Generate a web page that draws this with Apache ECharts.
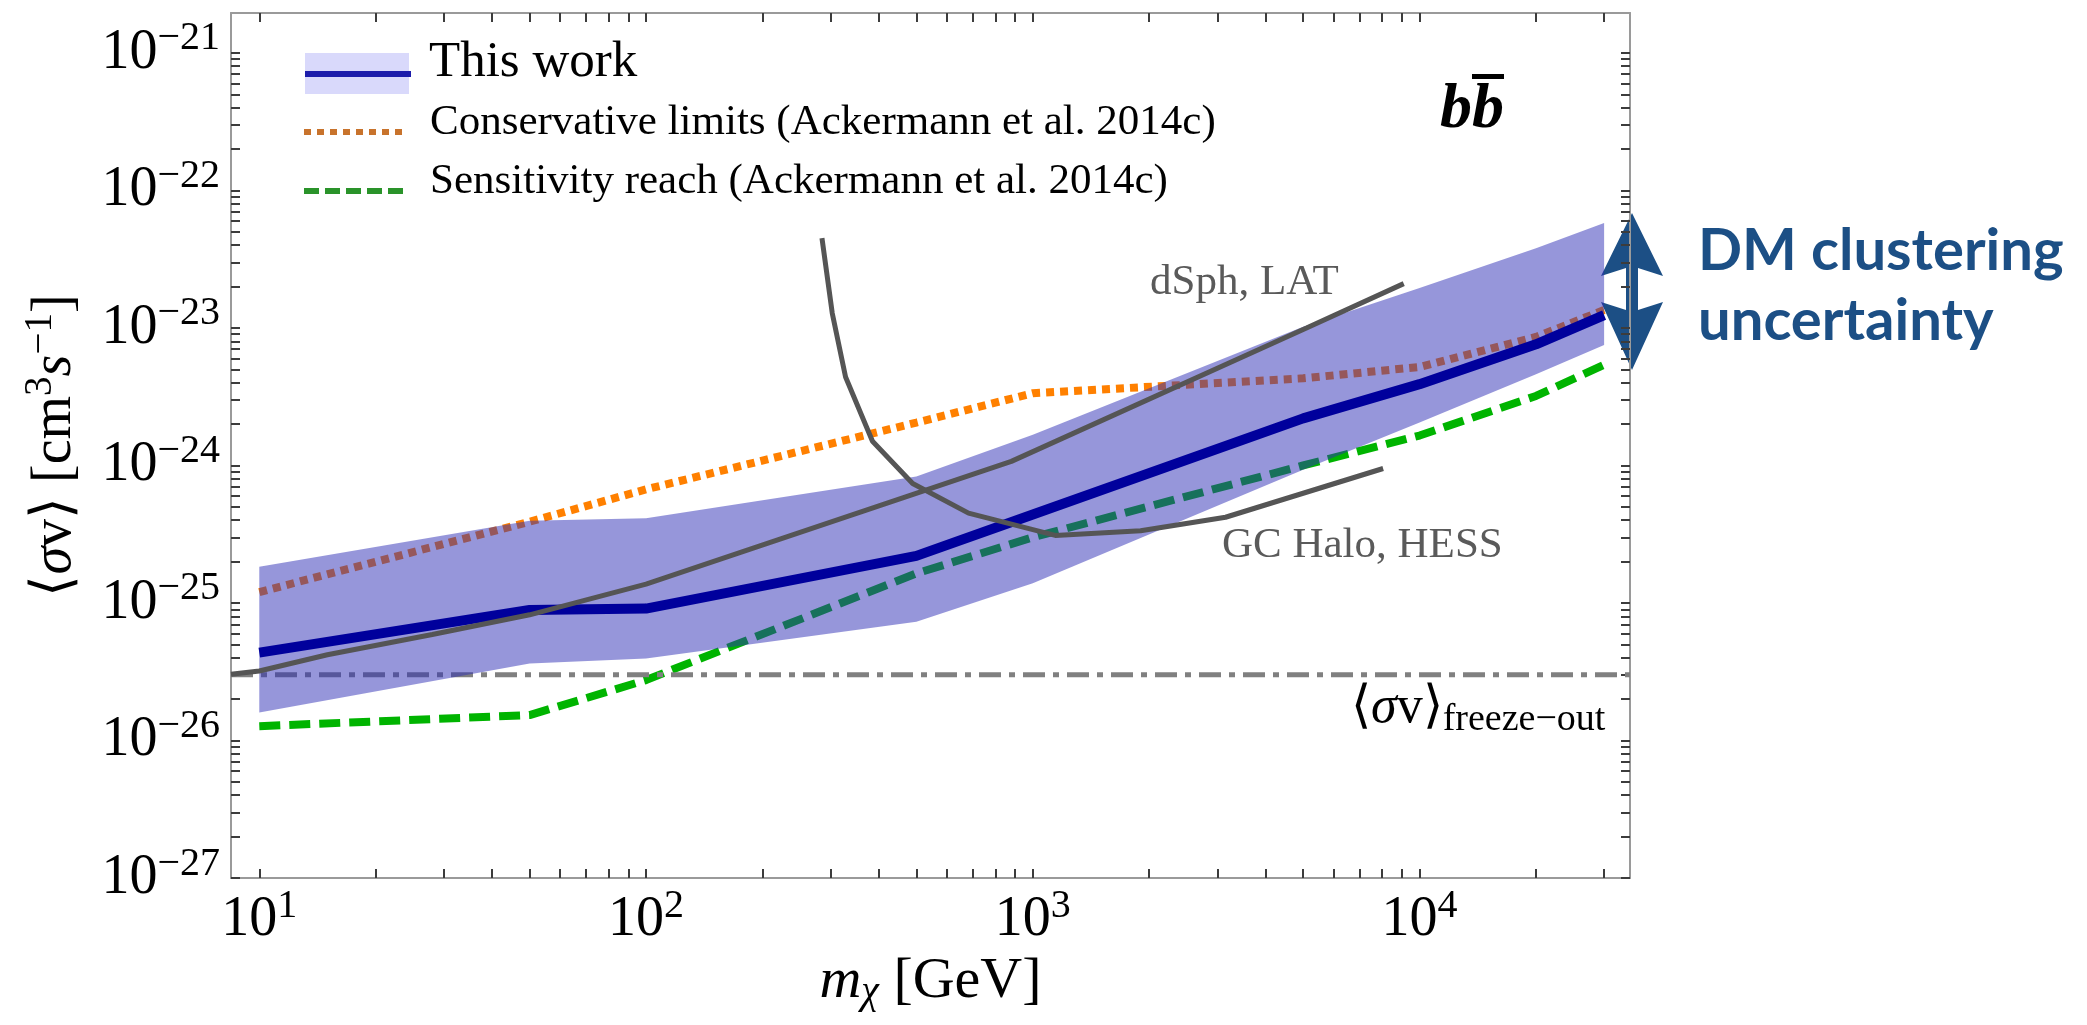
<!DOCTYPE html>
<html>
<head>
<meta charset="utf-8">
<script src="https://cdn.jsdelivr.net/npm/echarts@6/dist/echarts.min.js"></script>
<style>
html, body { margin: 0; padding: 0; background: #ffffff; }
#chart { width: 2087px; height: 1025px; }
</style>
</head>
<body>
<div id="chart"></div>
<script>
// ---------------- data ----------------
const massThisWork   = [10, 50, 100, 500, 1000, 5000, 10000, 20000, 30000];
const sigmaThisWork  = [4.35e-26, 8.9e-26, 9.1e-26, 2.2e-25, 4.4e-25, 2.2e-24, 3.9e-24, 7.6e-24, 1.24e-23];
const bandUpper      = [1.83e-25, 3.96e-25, 4.13e-25, 8.3e-25, 1.67e-24, 1.02e-23, 1.95e-23, 3.8e-23, 5.8e-23];
const bandLower      = [1.6e-26, 3.63e-26, 3.95e-26, 7.3e-26, 1.39e-25, 9.3e-25, 2.05e-24, 4.6e-24, 7.5e-24];

const massConservative  = [10, 50, 100, 500, 1000, 5000, 10000, 20000, 30000];
const sigmaConservative = [1.2e-25, 3.9e-25, 6.7e-25, 2.05e-24, 3.35e-24, 4.3e-24, 5.2e-24, 8.6e-24, 1.35e-23];

const massSensitivity  = [10, 50, 100, 500, 1000, 5000, 10000, 20000, 30000];
const sigmaSensitivity = [1.27e-26, 1.53e-26, 2.75e-26, 1.64e-25, 3.0e-25, 1.0e-24, 1.65e-24, 3.2e-24, 5.4e-24];

const massDSph  = [8.45, 10, 15, 28, 50, 100, 880, 5100, 9100];
const sigmaDSph = [3.03e-26, 3.2e-26, 4.2e-26, 5.9e-26, 8.2e-26, 1.37e-25, 1.07e-24, 1.0e-23, 2.1e-23];

const massGCHalo  = [285, 303, 328, 385, 489, 682, 1143, 1900, 3150, 8050];
const sigmaGCHalo = [4.5e-23, 1.28e-23, 4.4e-24, 1.5e-24, 7.4e-25, 4.5e-25, 3.1e-25, 3.35e-25, 4.2e-25, 9.5e-25];

const freezeOutMass  = [8.45, 35000];
const freezeOutSigma = 3e-26;

// axis ranges and ticks
const X_MIN = 8.45, X_MAX = 35000;
const Y_MIN = 1e-27, Y_MAX = 1.95e-21;
const xMajorTicks = [10, 100, 1000, 10000];
const xMinorTicks = [20, 30, 40, 50, 60, 70, 80, 90,
                     200, 300, 400, 500, 600, 700, 800, 900,
                     2000, 3000, 4000, 5000, 6000, 7000, 8000, 9000,
                     20000, 30000];
const yMajorExponents = [-27, -26, -25, -24, -23, -22, -21];
const yMinorMultipliers = [2, 3, 4, 5, 6, 7, 8, 9];

// ---------------- helpers ----------------
const lg = Math.log10;
const SERIF = '"Liberation Serif", "Times New Roman", serif';
const FRAME = '#9a9a9a';
const TICK = '#3c3c3c';

const yMinorTicks = [];
yMajorExponents.forEach(function (e) {
  yMinorMultipliers.forEach(function (k) {
    const v = e + lg(k);
    if (v < lg(Y_MAX)) yMinorTicks.push(v);
  });
});
const yTicksAll = yMajorExponents.concat(yMinorTicks);
const xTicksAll = xMajorTicks.concat(xMinorTicks);

function pairs(xs, ys) { return xs.map(function (x, i) { return [x, lg(ys[i])]; }); }
const bandData = massThisWork.map(function (m, i) { return [m, lg(bandLower[i]), lg(bandUpper[i])]; });

const labelRich = {
  b: { fontFamily: SERIF, fontSize: 56, color: '#000' },
  s: { fontFamily: SERIF, fontSize: 40, color: '#000', padding: [0, 0, 28, 0] }
};
function supLabel(exp) {
  const e = Math.round(exp);
  return '{b|10}{s|' + (e < 0 ? '\u2212' + (-e) : e) + '}';
}

const chart = echarts.init(document.getElementById('chart'), null, { width: 2087, height: 1025, renderer: 'canvas' });

const option = {
  animation: false,
  backgroundColor: '#ffffff',
  grid: { left: 231, right: 457, top: 13, bottom: 147, containLabel: false, outerBoundsMode: 'none' },
  xAxis: [
    {
      type: 'log', logBase: 10, min: X_MIN, max: X_MAX, position: 'bottom',
      axisLine: { show: true, onZero: false, lineStyle: { color: FRAME, width: 2 } },
      axisTick: { show: true, inside: true, length: 9, customValues: xTicksAll, lineStyle: { color: TICK, width: 2 } },
      axisLabel: { show: true, customValues: xMajorTicks, margin: 8, formatter: function (v) { return supLabel(lg(v)); }, rich: labelRich },
      splitLine: { show: false }, minorTick: { show: false },
      name: '{i|m}{sub|\u03C7}{r| [GeV]}', nameLocation: 'middle', nameGap: 70,
      nameTextStyle: { rich: {
        i: { fontFamily: SERIF, fontSize: 58, fontStyle: 'italic', color: '#000' },
        sub: { fontFamily: SERIF, fontSize: 40, fontStyle: 'italic', color: '#000', padding: [22, 0, 0, 0] },
        r: { fontFamily: SERIF, fontSize: 58, color: '#000' }
      } }
    },
    {
      type: 'log', logBase: 10, min: X_MIN, max: X_MAX, position: 'top',
      axisLine: { show: true, onZero: false, lineStyle: { color: FRAME, width: 2 } },
      axisTick: { show: true, inside: true, length: 9, customValues: xTicksAll, lineStyle: { color: TICK, width: 2 } },
      axisLabel: { show: false }, splitLine: { show: false }
    }
  ],
  yAxis: [
    {
      type: 'value', min: lg(Y_MIN), max: lg(Y_MAX), position: 'left',
      axisLine: { show: true, onZero: false, lineStyle: { color: FRAME, width: 2 } },
      axisTick: { show: true, inside: true, length: 9, customValues: yTicksAll, lineStyle: { color: TICK, width: 2 } },
      axisLabel: { show: true, customValues: yMajorExponents, margin: 11, formatter: function (v) { return supLabel(v); }, rich: labelRich },
      splitLine: { show: false },
      name: '{r|\u27E8}{i|\u03C3}{r|v\u27E9 [cm}{sup|3}{i|s}{sup|\u22121}{r|]}',
      nameLocation: 'middle', nameGap: 141, nameRotate: 90,
      nameTextStyle: { rich: {
        r: { fontFamily: SERIF, fontSize: 56, color: '#000' },
        i: { fontFamily: SERIF, fontSize: 56, fontStyle: 'italic', color: '#000' },
        sup: { fontFamily: SERIF, fontSize: 39, color: '#000', padding: [0, 0, 30, 0] }
      } }
    },
    {
      type: 'value', min: lg(Y_MIN), max: lg(Y_MAX), position: 'right',
      axisLine: { show: true, onZero: false, lineStyle: { color: FRAME, width: 2 } },
      axisTick: { show: true, inside: true, length: 9, customValues: yTicksAll, lineStyle: { color: TICK, width: 2 } },
      axisLabel: { show: false }, splitLine: { show: false }
    }
  ],
  series: [
    {
      name: 'Conservative limits (Ackermann et al. 2014c)', type: 'line', z: 2,
      data: pairs(massConservative, sigmaConservative), symbol: 'none', silent: true,
      lineStyle: { color: '#ff8000', width: 8, type: [8, 6], cap: 'butt' }
    },
    {
      name: 'Sensitivity reach (Ackermann et al. 2014c)', type: 'line', z: 2,
      data: pairs(massSensitivity, sigmaSensitivity), symbol: 'none', silent: true,
      lineStyle: { color: '#00b400', width: 8, type: [21, 9], cap: 'butt' }
    },
    {
      name: 'freeze-out', type: 'line', z: 2,
      data: freezeOutMass.map(function (m) { return [m, lg(freezeOutSigma)]; }), symbol: 'none', silent: true,
      lineStyle: { color: '#808080', width: 5, type: [22, 8, 6, 8], cap: 'butt' }
    },
    {
      name: 'This work band', type: 'custom', z: 3, silent: true,
      data: bandData, encode: { x: 0, y: [1, 2] },
      renderItem: function (params, api) {
        if (params.dataIndex !== 0) return null;
        const pts = [];
        for (let i = 0; i < bandData.length; i++) pts.push(api.coord([bandData[i][0], bandData[i][2]]));
        for (let i = bandData.length - 1; i >= 0; i--) pts.push(api.coord([bandData[i][0], bandData[i][1]]));
        return { type: 'polygon', shape: { points: pts }, style: { fill: 'rgba(45,45,181,0.5)' } };
      }
    },
    {
      name: 'This work', type: 'line', z: 4,
      data: pairs(massThisWork, sigmaThisWork), symbol: 'none', silent: true,
      lineStyle: { color: '#00009c', width: 10 }
    },
    {
      name: 'dSph, LAT', type: 'line', z: 5,
      data: pairs(massDSph, sigmaDSph), symbol: 'none', silent: true,
      lineStyle: { color: '#555555', width: 5 }
    },
    {
      name: 'GC Halo, HESS', type: 'line', z: 5,
      data: pairs(massGCHalo, sigmaGCHalo), symbol: 'none', silent: true,
      lineStyle: { color: '#555555', width: 5 }
    }
  ],
  graphic: [
    // legend
    { type: 'rect', silent: true, shape: { x: 305, y: 53, width: 104, height: 41 }, style: { fill: '#d9d9fb' } },
    { type: 'line', silent: true, shape: { x1: 305, y1: 74, x2: 411, y2: 74 }, style: { stroke: '#1c1cab', lineWidth: 6 } },
    { type: 'text', silent: true, x: 429, y: 63, style: { text: 'This work', fontFamily: SERIF, fontSize: 51, fill: '#000', align: 'left', verticalAlign: 'middle' } },
    { type: 'line', silent: true, shape: { x1: 304, y1: 132, x2: 408, y2: 132 }, style: { stroke: '#c8732c', lineWidth: 6, lineDash: [7, 6] } },
    { type: 'text', silent: true, x: 430, y: 123, style: { text: 'Conservative limits (Ackermann et al. 2014c)', fontFamily: SERIF, fontSize: 43, fill: '#000', align: 'left', verticalAlign: 'middle' } },
    { type: 'line', silent: true, shape: { x1: 304, y1: 191, x2: 408, y2: 191 }, style: { stroke: '#2a932a', lineWidth: 6, lineDash: [15, 6] } },
    { type: 'text', silent: true, x: 430, y: 182, style: { text: 'Sensitivity reach (Ackermann et al. 2014c)', fontFamily: SERIF, fontSize: 43, fill: '#000', align: 'left', verticalAlign: 'middle' } },
    // channel label
    { type: 'text', silent: true, x: 1440, y: 110, style: { text: 'bb', fontFamily: SERIF, fontSize: 64, fontWeight: 'bold', fontStyle: 'italic', fill: '#000', align: 'left', verticalAlign: 'middle' } },
    { type: 'rect', silent: true, shape: { x: 1472, y: 74, width: 32, height: 5 }, style: { fill: '#000' } },
    // curve annotations
    { type: 'text', silent: true, x: 1150, y: 283, style: { text: 'dSph, LAT', fontFamily: SERIF, fontSize: 43, fill: '#5a5a5a', align: 'left', verticalAlign: 'middle' } },
    { type: 'text', silent: true, x: 1222, y: 546, style: { text: 'GC Halo, HESS', fontFamily: SERIF, fontSize: 43, fill: '#5a5a5a', align: 'left', verticalAlign: 'middle' } },
    { type: 'text', silent: true, x: 1351, y: 708, style: {
        text: '{a|\u27E8}{g|\u03C3}{a|v\u27E9}{s|freeze\u2212out}', align: 'left', verticalAlign: 'middle',
        rich: {
          a: { fontFamily: SERIF, fontSize: 52, fill: '#000' },
          g: { fontFamily: SERIF, fontSize: 52, fontStyle: 'italic', fill: '#000' },
          s: { fontFamily: SERIF, fontSize: 38, fill: '#000', padding: [24, 0, 0, 0] }
        } } },
    // uncertainty arrow and note
    { type: 'polygon', silent: true, shape: { points: [
        [1632, 213], [1663, 276], [1638, 268], [1638, 310], [1663, 302],
        [1632, 370], [1601, 302], [1626, 310], [1626, 268], [1601, 276]
      ] }, style: { fill: '#1c4f85' } },
    { type: 'text', silent: true, x: 1698, y: 251, style: { text: 'DM clustering', fontFamily: 'Lato, "Open Sans", sans-serif', fontWeight: 'bold', fontSize: 58, fill: '#1c4f85', align: 'left', verticalAlign: 'middle' } },
    { type: 'text', silent: true, x: 1698, y: 321, style: { text: 'uncertainty', fontFamily: 'Lato, "Open Sans", sans-serif', fontWeight: 'bold', fontSize: 58, fill: '#1c4f85', align: 'left', verticalAlign: 'middle' } }
  ]
};

chart.setOption(option);
</script>
</body>
</html>
